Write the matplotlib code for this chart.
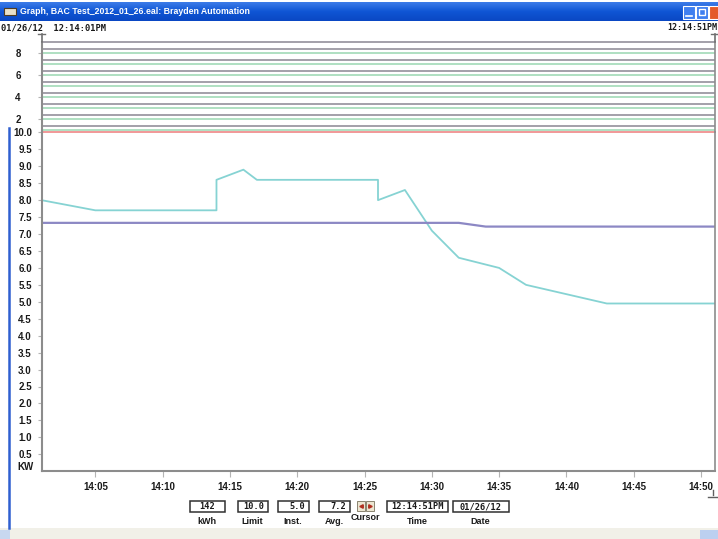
import datetime as dt

import matplotlib
matplotlib.use('Agg')
import matplotlib.pyplot as plt
import matplotlib.dates as mdates
import numpy as np
from matplotlib.patches import Rectangle

# ---- data ----
day = '2012-01-26'
kw_times = ['14:01', '14:05', '14:14', '14:14', '14:16', '14:17', '14:26', '14:26',
            '14:28', '14:30', '14:32', '14:35', '14:37', '14:43', '14:51']
kw_values = [8.0, 7.7, 7.7, 8.6, 8.9, 8.6, 8.6, 8.0,
             8.3, 7.1, 6.3, 6.0, 5.5, 4.95, 4.95]

avg_times = ['14:01', '14:32', '14:34', '14:51']
avg_values = [7.33, 7.33, 7.22, 7.22]

limit_kw = 10.0

# digital channels in the upper strip (all idle over the window)
channel_ids = [1, 2, 3, 4, 5, 6, 7, 8]
channel_off = [0.05] * 8
channel_ref = [0.4] * 8

kw_ticks = [0.5, 1.0, 1.5, 2.0, 2.5, 3.0, 3.5, 4.0, 4.5, 5.0,
            5.5, 6.0, 6.5, 7.0, 7.5, 8.0, 8.5, 9.0, 9.5, 10.0]
channel_ticks = [2, 4, 6, 8]

box_labels = ['kWh', 'Limit', 'Inst.', 'Avg.', 'Time', 'Date']
box_values = ['142', '10.0', '5.0', '7.2', '12:14:51PM', '01/26/12']

start_stamp = '01/26/12  12:14:01PM'
end_stamp = '12:14:51PM'
title = 'Graph, BAC Test_2012_01_26.eal: Brayden Automation'


def to_dt(t):
    return dt.datetime.strptime(f'{day} {t}', '%Y-%m-%d %H:%M')


W, H = 718, 539


def rect(x0, y0, x1, y1):
    return [x0 / W, 1 - y1 / H, (x1 - x0) / W, (y1 - y0) / H]


FONT = 'Liberation Sans'
INK = '#1a1a1a'
SPINE = '#8c8c8c'
TICK = '#b4b4b4'

fig = plt.figure(figsize=(W / 100, H / 100), dpi=100, facecolor='white')

x_left, x_right = 41.5, 714.5
xmin, xmax = to_dt('14:01'), to_dt('14:51')

# ---- lower panel: kW ----
ax = fig.add_axes(rect(x_left, 132.4, x_right, 471.2))
ax.plot([to_dt(t) for t in kw_times], kw_values, color='#86d3d3', lw=1.3)
ax.plot([to_dt(t) for t in avg_times], avg_values, color='#8c88c4', lw=1.6)
ax.axhline(limit_kw, color='#f09090', lw=1.3, clip_on=False)
ax.set_xlim(xmin, xmax)
ax.set_ylim(0, 10)
ax.set_yticks(kw_ticks)
ax.set_yticklabels([f'{v:.1f}' for v in kw_ticks])
ax.xaxis.set_major_locator(mdates.MinuteLocator(byminute=range(5, 60, 5)))
ax.xaxis.set_major_formatter(mdates.DateFormatter('%H:%M'))
ax.tick_params(axis='y', length=3, width=0.8, color=TICK, pad=4,
               labelsize=7, labelcolor=INK)
ax.tick_params(axis='x', length=4, width=0.8, color=TICK, pad=4,
               labelsize=7, labelcolor=INK)
for lab in ax.get_xticklabels() + ax.get_yticklabels():
    lab.set_fontweight('bold')
    lab.set_family(FONT)
ax.spines['top'].set_visible(False)
for side in ['left', 'bottom', 'right']:
    ax.spines[side].set_color(SPINE)
ax.spines['left'].set_linewidth(1.5)
ax.spines['bottom'].set_linewidth(1.5)
ax.spines['right'].set_linewidth(1.2)

# ---- upper panel: digital channels ----
top = fig.add_axes(rect(x_left, 41.7, x_right, 132.4), sharex=ax)
for cid, off, ref in zip(channel_ids, channel_off, channel_ref):
    top.plot([xmin, xmax], [cid + off, cid + off], color='#a2dab8', lw=1.2)
    top.plot([xmin, xmax], [cid + ref, cid + ref], color='#9c98a2', lw=1.3)
top.set_ylim(0.81, 9.05)
top.set_yticks(channel_ticks)
top.set_yticklabels([str(v) for v in channel_ticks])
top.tick_params(axis='y', length=3, width=0.8, color=TICK, pad=12,
                labelsize=7, labelcolor=INK)
top.tick_params(axis='x', bottom=False, labelbottom=False)
for lab in top.get_yticklabels():
    lab.set_fontweight('bold')
    lab.set_family(FONT)
top.spines['bottom'].set_visible(False)
top.spines['top'].set_color('#9c98a2')
top.spines['top'].set_linewidth(1.3)
top.spines['left'].set_color(SPINE)
top.spines['left'].set_linewidth(1.5)
top.spines['right'].set_color(SPINE)
top.spines['right'].set_linewidth(1.2)
top.patch.set_alpha(0)

# ---- window chrome and readouts (pixel overlay) ----
ov = fig.add_axes([0, 0, 1, 1], zorder=5)
ov.set_xlim(0, W)
ov.set_ylim(H, 0)
ov.axis('off')

grad = np.linspace(0, 1, 20).reshape(-1, 1)
ov.imshow(grad, extent=(0, W, 21, 2), aspect='auto', cmap=matplotlib.colors.LinearSegmentedColormap.from_list(
    'xp', ['#3b7be8', '#0f55d4', '#0a48c4']), zorder=1)
ov.add_patch(Rectangle((4, 8), 12, 7, facecolor='#e8e0c8', edgecolor='#503c20', lw=0.8, zorder=2))
ov.text(20, 12, title, color='white', fontsize=6.3, fontweight='bold', family=FONT,
        va='center', ha='left', zorder=3)
for bx, col in [(683, '#3f7ff0'), (696, '#3f7ff0'), (709, '#e45a2a')]:
    ov.add_patch(Rectangle((bx, 6), 12, 13, facecolor=col, edgecolor='white', lw=0.8, zorder=2))
ov.plot([686, 692], [16, 16], color='white', lw=1.2, zorder=3)
ov.add_patch(Rectangle((699, 9), 6, 6, facecolor='none', edgecolor='white', lw=1, zorder=3))

ov.text(1, 28, start_stamp, fontsize=6.3, fontweight='bold', family='DejaVu Sans Mono',
        color=INK, va='center', ha='left')
ov.text(717, 28, end_stamp, fontsize=6.0, fontweight='bold', family='DejaVu Sans Mono',
        color=INK, va='center', ha='right')

# start/end cursor markers
for xm in (x_left, x_right):
    ov.plot([xm - 3.5, xm + 3.5], [34, 34], color='#707070', lw=1)
    ov.plot([xm, xm], [34, 41.7], color='#707070', lw=1.2)
ov.plot([708, 717], [497, 497], color='#606060', lw=1)
ov.plot([712.5, 712.5], [490, 495], color='#606060', lw=1)

ov.text(25, 467, 'KW', fontsize=7, fontweight='bold', family=FONT, color=INK,
        ha='center', va='center')

# readout boxes
boxes = [(189.5, 224.5), (237.5, 267.5), (277.5, 308.5), (319, 349.5),
         (386.5, 447.5), (452.5, 508.5)]
aligns = ['center', 'right', 'right', 'right', 'center', 'center']
for (bx0, bx1), val, lab, al in zip(boxes, box_values, box_labels, aligns):
    ov.add_patch(Rectangle((bx0, 501), bx1 - bx0, 11, facecolor='white',
                           edgecolor='#303030', lw=1.1))
    tx = (bx0 + bx1) / 2 if al == 'center' else bx1 - 3
    ov.text(tx, 506.5, val, fontsize=6.2, fontweight='bold', family='DejaVu Sans Mono',
            color=INK, ha=al, va='center')
    ov.text((bx0 + bx1) / 2, 521.5, lab, fontsize=6.5, fontweight='bold', family=FONT,
            color=INK, ha='center', va='center')

# cursor arrows
for cx, mk in [(361, '<'), (370, '>')]:
    ov.add_patch(Rectangle((cx - 4, 501), 8, 10, facecolor='#ece6d2', edgecolor='#8a8470', lw=0.7))
    ov.plot(cx, 506, marker=mk, color='#b03020', markersize=2.5)
ov.text(365, 517, 'Cursor', fontsize=6.5, fontweight='bold', family=FONT,
        color=INK, ha='center', va='center')

# window frame bits
ov.add_patch(Rectangle((0, 528), W, 11, facecolor='#f1f0e8', edgecolor='none', zorder=0))
ov.add_patch(Rectangle((0, 530), 10, 9, facecolor='#c8d8f0', edgecolor='none', zorder=1))
ov.add_patch(Rectangle((700, 530), 18, 9, facecolor='#bcd0f0', edgecolor='none', zorder=1))
ov.plot([8.5, 8.5], [128, 528], color='#2f5fd0', lw=1.8)

fig.savefig('out.png', dpi=100, facecolor='white')
